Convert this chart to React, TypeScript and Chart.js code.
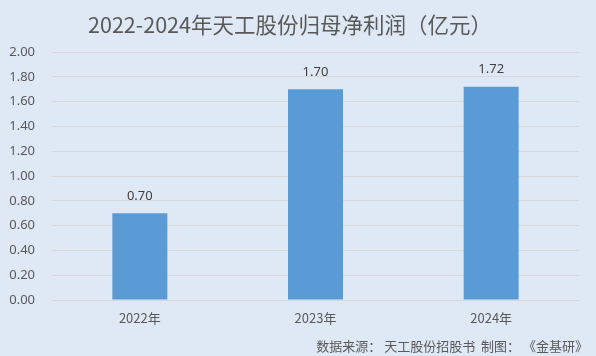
import React, { useEffect, useRef } from "react";
import { Chart, registerables } from "chart.js";

Chart.register(...registerables);

const categories = ["2022年", "2023年", "2024年"];
const netProfit = [0.7, 1.7, 1.72];
const titleText = "2022-2024年天工股份归母净利润（亿元）";
const footerText = "数据来源： 天工股份招股书  制图： 《金基研》";

const BG = "#dee9f5";
const TEXT = "#595959";

const overlayPlugin = {
  id: "overlay",
  beforeDraw(chart: any) {
    const ctx = chart.ctx;
    ctx.save();
    ctx.fillStyle = BG;
    ctx.fillRect(0, 0, chart.width, chart.height);
    ctx.restore();
  },
  afterDatasetsDraw(chart: any) {
    const ctx = chart.ctx;
    ctx.save();
    // title
    ctx.fillStyle = TEXT;
    ctx.font = '21.5px "Noto Sans CJK SC", "Noto Sans", sans-serif';
    ctx.textAlign = "center";
    ctx.textBaseline = "middle";
    ctx.fillText(titleText, 290, 25);
    // footer
    ctx.font = '13px "Noto Sans CJK SC", "Noto Sans", sans-serif';
    ctx.textAlign = "right";
    ctx.fillText(footerText, 588, 346);
    // data labels
    const meta = chart.getDatasetMeta(0);
    ctx.fillStyle = "#404040";
    ctx.font = '13px "Noto Sans", sans-serif';
    ctx.textAlign = "center";
    meta.data.forEach((bar: any, i: number) => {
      ctx.fillText(netProfit[i].toFixed(2), bar.x, bar.y - 17);
    });
    ctx.restore();
  },
};

export default function App() {
  const ref = useRef<HTMLCanvasElement | null>(null);
  useEffect(() => {
    if (!ref.current) return;
    const chart = new Chart(ref.current, {
      type: "bar",
      data: {
        labels: categories,
        datasets: [
          {
            data: netProfit,
            backgroundColor: "#5b9bd5",
            barPercentage: 0.313,
            categoryPercentage: 1,
          },
        ],
      },
      options: {
        animation: false,
        responsive: false,
        maintainAspectRatio: false,
        layout: { padding: { top: 52, right: 17, left: 0, bottom: 0 } },
        plugins: {
          legend: { display: false },
          title: { display: false },
          tooltip: { enabled: false },
        },
        scales: {
          x: {
            grid: { display: false, drawTicks: false },
            border: { display: true, color: "#d9d9d9", width: 1 },
            ticks: {
              color: TEXT,
              font: { size: 13, family: '"Noto Sans CJK SC", "Noto Sans", sans-serif' },
              padding: 10,
            },
            afterFit(scale: any) {
              scale.height = 56;
            },
          },
          y: {
            min: 0,
            max: 2,
            grid: { color: "#d9d9d9", drawTicks: false },
            border: { display: false },
            ticks: {
              stepSize: 0.2,
              color: TEXT,
              padding: 17,
              font: { size: 13, family: '"Noto Sans", sans-serif' },
              callback: (v: any) => Number(v).toFixed(2),
            },
            afterFit(scale: any) {
              scale.width = 52;
            },
          },
        },
      },
      plugins: [overlayPlugin],
    });
    return () => chart.destroy();
  }, []);
  return (
    <div style={{ position: "fixed", left: 0, top: 0, width: 596, height: 356, background: BG }}>
      <canvas ref={ref} width={596} height={356} style={{ display: "block" }} />
    </div>
  );
}
